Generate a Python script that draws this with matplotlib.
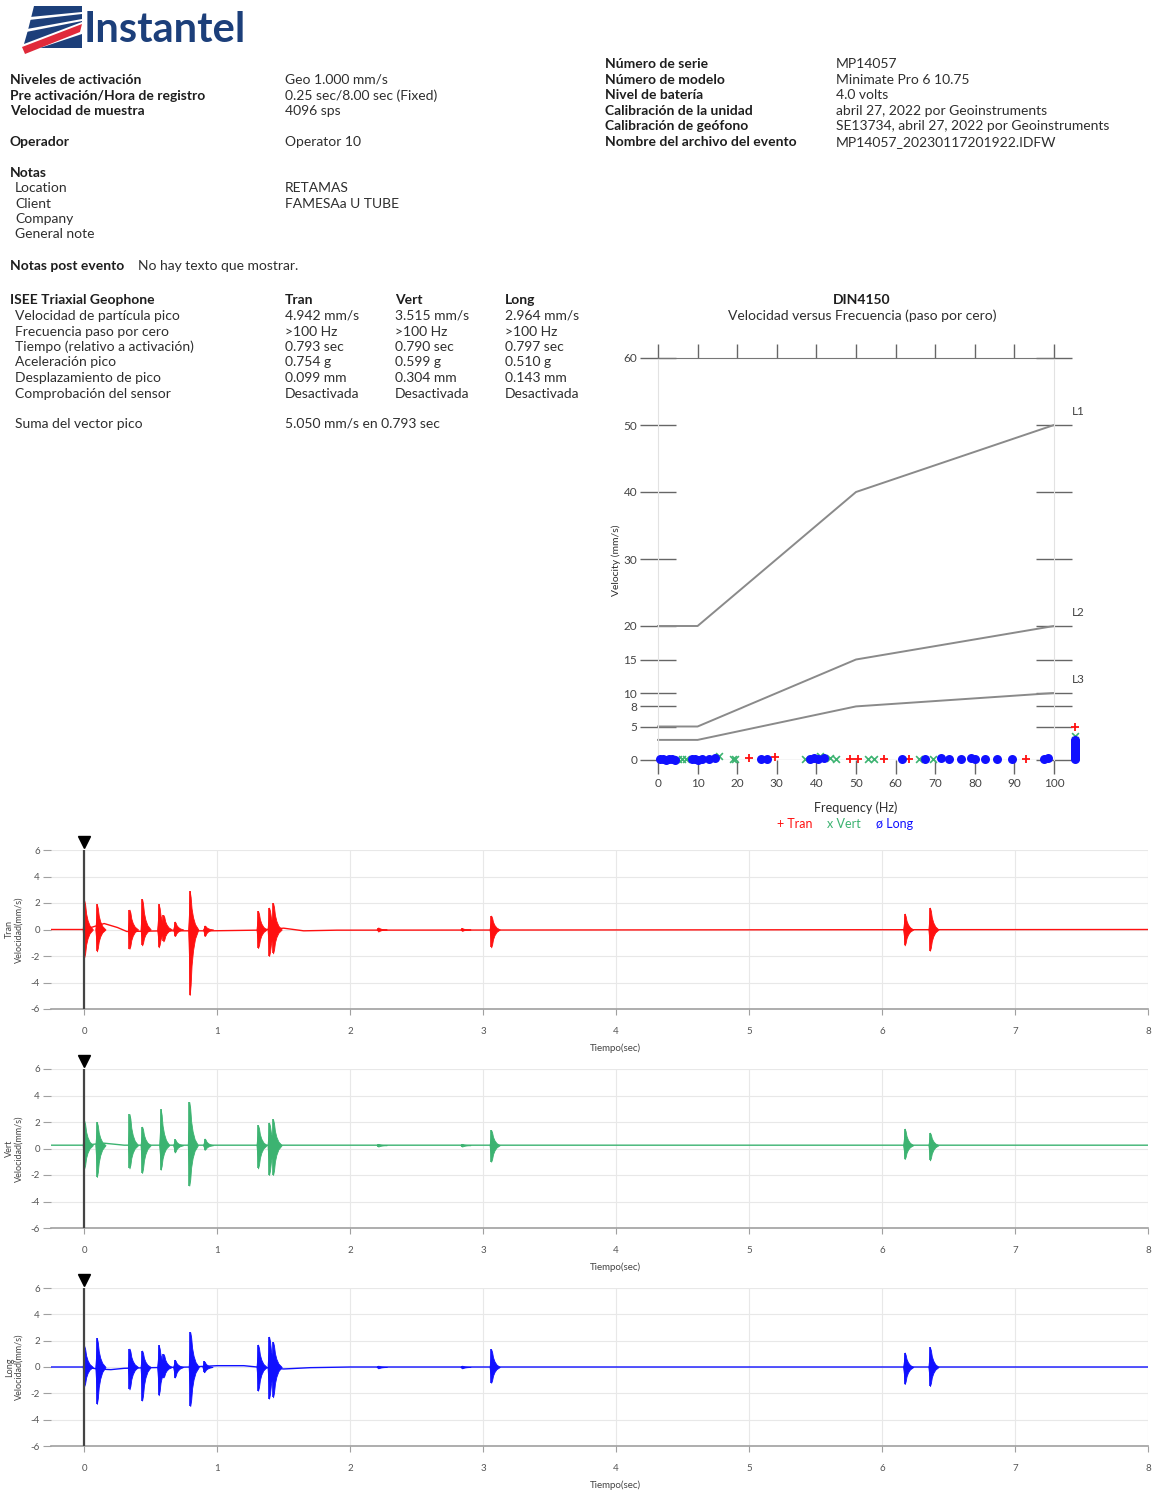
import numpy as np
import matplotlib.pyplot as plt
from matplotlib.patches import Polygon

plt.rcParams['font.family'] = ['Lato', 'DejaVu Sans']
plt.rcParams['axes.unicode_minus'] = False

W, H = 1161, 1494

# ---- report header values ----
left_labels = ['Niveles de activación', 'Pre activación/Hora de registro', 'Velocidad de muestra']
left_values = ['Geo 1.000 mm/s', '0.25 sec/8.00 sec (Fixed)', '4096 sps']
operator = 'Operator 10'
note_labels = ['Location', 'Client', 'Company', 'General note']
note_values = ['RETAMAS', 'FAMESAa U TUBE', '', '']

right_labels = ['Número de serie', 'Número de modelo', 'Nivel de batería',
                'Calibración de la unidad', 'Calibración de geófono',
                'Nombre del archivo del evento']
right_values = ['MP14057', 'Minimate Pro 6 10.75', '4.0 volts',
                'abril 27, 2022 por Geoinstruments',
                'SE13734, abril 27, 2022 por Geoinstruments',
                'MP14057_20230117201922.IDFW']

geo_rows = ['Velocidad de partícula pico', 'Frecuencia paso por cero',
            'Tiempo (relativo a activación)', 'Aceleración pico',
            'Desplazamiento de pico', 'Comprobación del sensor']
geo_tran = ['4.942 mm/s', '>100 Hz', '0.793 sec', '0.754 g', '0.099 mm', 'Desactivada']
geo_vert = ['3.515 mm/s', '>100 Hz', '0.790 sec', '0.599 g', '0.304 mm', 'Desactivada']
geo_long = ['2.964 mm/s', '>100 Hz', '0.797 sec', '0.510 g', '0.143 mm', 'Desactivada']
vector_sum = '5.050 mm/s en 0.793 sec'

# ---- DIN4150 limit curves ----
din_freq = [0, 10, 50, 100]
din_l1 = [20, 20, 40, 50]
din_l2 = [5, 5, 15, 20]
din_l3 = [3, 3, 8, 10]
din_yticks = [0, 5, 8, 10, 15, 20, 30, 40, 50, 60]

# zero-crossing frequency / peak velocity points
long_f = [0.5, 1.2, 2.0, 2.8, 3.5, 4.3, 8.5, 9.3, 10.0, 11.0, 13.0, 14.5, 26.0, 27.5,
          38.5, 39.5, 40.5, 42.0, 61.5, 67.5, 71.5, 73.5, 76.5, 79.0, 80.0, 82.5,
          85.5, 89.5, 97.5, 98.5]
long_v = [0.1, 0.2, 0.05, 0.15, 0.1, 0.05, 0.1, 0.2, 0.05, 0.1, 0.2, 0.3, 0.1, 0.2,
          0.1, 0.3, 0.2, 0.3, 0.2, 0.2, 0.3, 0.2, 0.2, 0.3, 0.2, 0.1, 0.1, 0.2, 0.1, 0.3]
vert_f = [5.0, 6.0, 7.0, 12.0, 15.5, 19.0, 19.5, 37.0, 41.0, 43.5, 45.0, 53.0, 54.5, 66.0, 69.5]
vert_v = [0.1, 0.2, 0.1, 0.2, 0.6, 0.2, 0.1, 0.2, 0.6, 0.3, 0.2, 0.1, 0.2, 0.1, 0.1]
tran_f = [23.0, 29.5, 48.5, 50.5, 57.0, 63.5, 93.0]
tran_v = [0.3, 0.5, 0.2, 0.1, 0.2, 0.1, 0.2]
# peaks above 100 Hz
over_f = 105.3
over_long = [0.1, 0.3, 0.45, 0.55, 0.8, 1.0, 1.2, 1.25, 1.35, 1.45, 1.65, 1.7, 1.8,
             2.15, 2.2, 2.3, 2.4, 2.55, 2.65, 2.8, 2.964]
over_vert = [0.75, 1.5, 1.75, 2.0, 2.2, 2.6, 2.95, 3.515]
over_tran = [0.6, 1.2, 1.5, 1.9, 2.2, 2.3, 2.9, 4.942]

# ---- waveforms: burst times and peak envelopes (mm/s) ----
tran_t = [0.0, 0.095, 0.34, 0.435, 0.56, 0.595, 0.68, 0.793, 0.905, 1.307, 1.39, 1.42,
          2.21, 2.84, 3.06, 6.17, 6.36]
tran_hi = [2.2, 1.9, 1.5, 2.3, 1.9, 1.1, 0.6, 2.9, 0.3, 1.4, 1.65, 2.0, 0.15, 0.1, 1.05, 1.2, 1.65]
tran_lo = [-2.1, -1.65, -1.45, -1.2, -1.35, -0.9, -0.5, -4.942, -0.5, -1.4, -2.0, -1.8,
           -0.15, -0.1, -1.35, -1.2, -1.6]
tran_base_t = [-0.25, 0.0, 0.1, 0.15, 0.25, 0.32, 0.6, 0.95, 1.3, 1.5, 1.65, 1.9, 8.0]
tran_base_v = [0.0, 0.0, 0.3, 0.45, 0.15, -0.15, -0.1, -0.1, -0.05, 0.1, -0.1, -0.05, 0.0]

vert_t = [0.0, 0.095, 0.34, 0.435, 0.575, 0.68, 0.790, 0.905, 1.307, 1.39, 1.42,
          2.21, 2.84, 3.06, 6.17, 6.36]
vert_hi = [2.1, 2.0, 2.6, 1.65, 2.95, 0.7, 3.515, 0.75, 1.75, 1.95, 2.2, 0.35, 0.35, 1.4, 1.5, 1.2]
vert_lo = [-1.5, -2.15, -1.5, -1.85, -1.6, -0.3, -2.8, -0.1, -1.5, -2.0, -2.0, 0.15, 0.15, -1.0, -0.8, -0.9]
vert_base_t = [-0.25, 0.0, 0.15, 0.3, 8.0]
vert_base_v = [0.25, 0.25, 0.4, 0.25, 0.25]

long_t = [0.0, 0.095, 0.34, 0.435, 0.56, 0.595, 0.68, 0.797, 0.9, 1.307, 1.39, 1.42,
          2.21, 2.84, 3.06, 6.17, 6.36]
long_hi = [1.6, 2.2, 1.4, 1.25, 1.65, 1.0, 0.55, 2.65, 0.45, 1.7, 2.3, 1.9, 0.1, 0.1, 1.35, 1.1, 1.5]
long_lo = [-1.45, -2.8, -1.7, -2.55, -2.15, -0.8, -0.8, -2.964, -0.4, -1.8, -2.4, -2.3,
           -0.1, -0.1, -1.2, -1.3, -1.45]
long_base_t = [-0.25, 0.0, 0.1, 0.2, 0.3, 0.5, 0.8, 1.0, 1.2, 1.3, 1.5, 1.7, 2.0, 8.0]
long_base_v = [0.0, 0.0, -0.15, -0.2, -0.1, -0.05, 0.0, 0.1, 0.1, 0.0, -0.15, -0.05, 0.0, 0.0]

# shape of one burst (time offset, fraction of peak)
spike_dt = np.array([-0.012, -0.004, 0.0, 0.007, 0.014, 0.025, 0.04, 0.065])
spike_k = np.array([0.0, 0.5, 1.0, 0.85, 0.55, 0.32, 0.14, 0.0])

RED = '#ff1010'
GREEN = '#3cb371'
BLUE = '#1010ff'

fig = plt.figure(figsize=(W / 100, H / 100), dpi=100)


def tx(x, y, s, **kw):
    kw.setdefault('fontsize', 10)
    kw.setdefault('color', '#2e2e2e')
    kw.setdefault('va', 'center')
    return fig.text(x / W, 1 - y / H, s, **kw)


def box(x0, y0, x1, y1):
    return fig.add_axes([x0 / W, 1 - y1 / H, (x1 - x0) / W, (y1 - y0) / H])


# ---- logo ----
def poly(pts, color):
    fig.patches.append(Polygon([(x / W, 1 - y / H) for x, y in pts], closed=True,
                               transform=fig.transFigure, facecolor=color,
                               edgecolor='none'))


NAVY = '#1c3f7a'
poly([(34, 6), (82, 6), (82, 22), (24, 44), (28, 30)], NAVY)
poly([(30, 17), (82, 12), (82, 14), (29, 20)], 'white')
poly([(27, 29), (82, 19), (82, 21), (26, 32)], 'white')
poly([(22, 47), (82, 24), (80, 32), (25, 54)], '#e02a3a')
poly([(40, 48), (82, 34), (82, 48), (38, 48)], NAVY)
tx(84, 30, 'Instantel', fontsize=30, fontweight='bold', color=NAVY)

# ---- header text ----
for i, (lab, val) in enumerate(zip(left_labels, left_values)):
    y = [80, 96, 111][i]
    tx(10, y, lab, fontweight='bold', color='#1e1e1e')
    tx(285, y, val)
tx(10, 142, 'Operador', fontweight='bold', color='#1e1e1e')
tx(285, 142, operator)
tx(10, 173, 'Notas', fontweight='bold', color='#1e1e1e')
for i, (lab, val) in enumerate(zip(note_labels, note_values)):
    y = 188 + i * 15.5
    tx(15, y, lab)
    if val:
        tx(285, y, val)
tx(10, 266, 'Notas post evento', fontweight='bold', color='#1e1e1e')
tx(138, 266, 'No hay texto que mostrar.')

for i, (lab, val) in enumerate(zip(right_labels, right_values)):
    y = 64 + i * 15.6
    tx(605, y, lab, fontweight='bold', color='#1e1e1e')
    tx(836, y, val)

tx(10, 300, 'ISEE Triaxial Geophone', fontweight='bold', color='#1e1e1e')
for x, head in zip([285, 395, 505], ['Tran', 'Vert', 'Long']):
    tx(x, 300, head, fontweight='bold', color='#1e1e1e')
for i, lab in enumerate(geo_rows):
    y = 316 + i * 15.5
    tx(15, y, lab)
    tx(285, y, geo_tran[i])
    tx(395, y, geo_vert[i])
    tx(505, y, geo_long[i])
tx(15, 424, 'Suma del vector pico')
tx(285, 424, vector_sum)

# ---- DIN4150 chart ----
tx(862, 300, 'DIN4150', fontweight='bold', color='#1e1e1e', ha='center')
tx(862, 316, 'Velocidad versus Frecuencia (paso por cero)', ha='center')

ax = box(658, 358, 1054, 760)
ax.set_xlim(0, 100)
ax.set_ylim(0, 60)
ax.axhline(0, color='#cccccc', lw=1, zorder=1)
for ys, name in [(din_l1, 'L1'), (din_l2, 'L2'), (din_l3, 'L3')]:
    ax.plot(din_freq, ys, color='#8a8a8a', lw=1.4, clip_on=False, zorder=2)
    ax.text(104.5, ys[-1] + 2, name, fontsize=8.5, color='#444444', va='center')
ax.scatter(tran_f + [over_f] * len(over_tran), tran_v + over_tran, marker='+',
           color=RED, s=34, lw=1.3, clip_on=False, zorder=3)
ax.scatter(vert_f + [over_f] * len(over_vert), vert_v + over_vert, marker='x',
           color=GREEN, s=24, lw=1.2, clip_on=False, zorder=4)
ax.scatter(long_f + [over_f] * len(over_long), long_v + over_long, marker='o',
           color=BLUE, s=42, lw=0, clip_on=False, zorder=5)
ax.set_xticks(range(0, 101, 10))
ax.set_yticks(din_yticks)
ax.tick_params(axis='x', top=True, bottom=True, direction='out', length=10,
               width=1, color='#666666', labelsize=8.5, labelcolor='#444444', pad=3)
ax.tick_params(axis='y', left=True, right=True, direction='inout', length=26,
               width=1, color='#666666', labelsize=8.5, labelcolor='#444444', pad=2)
for s in ['left', 'right']:
    ax.spines[s].set_color('#e2e2e2')
ax.spines['top'].set_color('#777777')
ax.spines['bottom'].set_visible(False)
tx(616, 560, 'Velocity (mm/s)', fontsize=7.5, rotation=90, ha='center')
tx(856, 808, 'Frequency (Hz)', fontsize=9, ha='center')
tx(777, 824, '+ Tran', fontsize=9, color=RED)
tx(827, 824, 'x Vert', fontsize=9, color=GREEN)
tx(876, 824, 'ø Long', fontsize=9, color=BLUE)

# ---- waveform panels ----
panels = [
    ('Tran', RED, tran_t, tran_hi, tran_lo, tran_base_t, tran_base_v, 0.0, 850, 1009),
    ('Vert', GREEN, vert_t, vert_hi, vert_lo, vert_base_t, vert_base_v, 0.25, 1069, 1228),
    ('Long', BLUE, long_t, long_hi, long_lo, long_base_t, long_base_v, 0.0, 1288, 1446),
]
for name, col, bt, bhi, blo, base_t, base_v, off, top, bot in panels:
    ax = box(51, top, 1148, bot)
    ax.set_xlim(-0.25, 8)
    ax.set_ylim(-6, 6)
    ax.grid(color='#e8e8e8', lw=0.8)
    ax.set_axisbelow(True)
    ax.plot(base_t, base_v, color=col, lw=1.0, zorder=2)
    for t, hi, lo in zip(bt, bhi, blo):
        ax.fill_between(t + spike_dt, off + (hi - off) * spike_k, off + (lo - off) * spike_k,
                        color=col, lw=0.6, zorder=3)
        ax.vlines(t, lo, hi, color=col, lw=1.2, zorder=3)
    ax.axvline(0, color='#444444', lw=1.6, zorder=4)
    ax.plot([0], [6.6], marker='v', color='black', ms=8, clip_on=False, zorder=5)
    ax.set_xticks(range(9))
    ax.set_yticks(range(-6, 7, 2))
    for s in ['left', 'top', 'right']:
        ax.spines[s].set_visible(False)
    ax.spines['bottom'].set_color('#a0a0a0')
    ax.spines['bottom'].set_linewidth(1.2)
    ax.tick_params(axis='x', length=4, color='#a0a0a0', labelsize=7,
                   labelcolor='#555555', pad=9)
    ax.tick_params(axis='y', length=6, color='#a0a0a0', labelsize=7,
                   labelcolor='#555555', pad=2)
    tx(615, bot + 39, 'Tiempo(sec)', fontsize=7, ha='center', color='#444444')
    tx(14, (top + bot) / 2, name + '\nVelocidad(mm/s)', fontsize=6.5, rotation=90,
       ha='center', color='#444444', linespacing=1.1)

fig.savefig('out.png', dpi=100)
